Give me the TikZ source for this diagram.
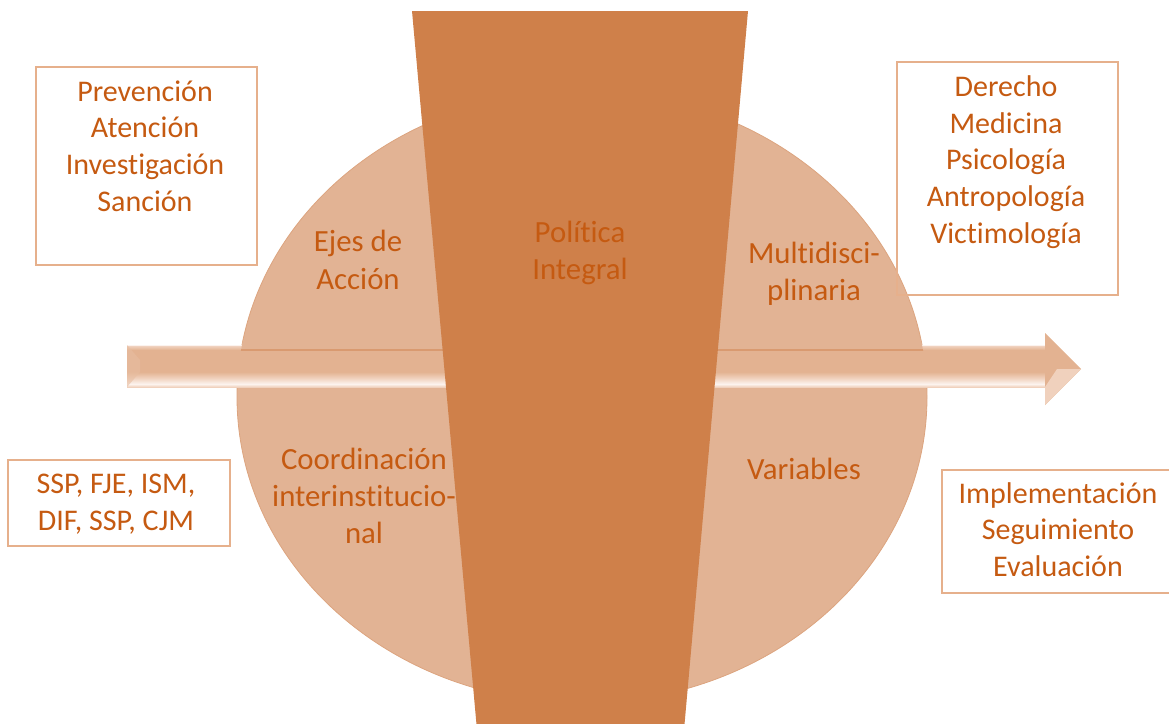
\documentclass[tikz,border=0pt]{standalone}
\usepackage{fontspec}
\setmainfont[Ligatures=NoCommon]{Carlito}
\definecolor{txt}{HTML}{C55A11}
\definecolor{ell}{HTML}{E2B394}
\definecolor{elledge}{HTML}{DCA47F}
\definecolor{trap}{HTML}{CF804A}
\definecolor{boxb}{HTML}{E6B08C}
\definecolor{arr}{HTML}{E3B291}
\definecolor{arrl}{HTML}{FCF3EE}
\definecolor{arrm}{HTML}{F0D1BD}
\definecolor{arrd}{HTML}{D99A70}
\pgfdeclareverticalshading{shaftshade}{100bp}{%
  color(0bp)=(arrm); color(25bp)=(arrm); color(28.6bp)=(arrl);
  color(35.7bp)=(arrm); color(43bp)=(arr); color(69bp)=(arr);
  color(73.8bp)=(arrm); color(75bp)=(arrl); color(100bp)=(arrl)}
\tikzset{
  lbl/.style={text=txt, font=\fontsize{30}{36.8}\selectfont, align=center, inner sep=0pt},
  ilbl/.style={lbl, font=\fontsize{30.8}{37.2}\selectfont},
  frame/.style={draw=boxb, line width=1.3pt},
}
\begin{document}
\begin{tikzpicture}[x=1pt,y=-1pt]
\useasboundingbox (0,0) rectangle (1169,723);
\clip (0,0) rectangle (1169,723);
% ellipse
\fill[ell, draw=elledge, line width=0.8pt] (582,397) ellipse [x radius=345, y radius=306];
% arrow shaft and head
\shade[shading=shaftshade] (127,345) rectangle (1045,387);
\fill[arr] (1045,333) -- (1081,369) -- (1045,405) -- cycle;
\fill[arrm] (1045,387) -- (1057,369) -- (1081,369) -- (1045,405) -- cycle;
\fill[arr!85!white, opacity=0.6] (127,345) -- (140,360) -- (140,372) -- (127,387) -- cycle;
\begin{scope}
  \clip (582,397) ellipse [x radius=345, y radius=306];
  \fill[ell] (127,340) rectangle (1045,349);
  \draw[arrd, line width=1.6pt] (127,350) -- (1045,350);
\end{scope}
% central trapezoid
\fill[trap] (412,11) -- (748,11) -- (684,730) -- (477,730) -- cycle;
% boxes
\draw[frame] (36,67) rectangle (257,265);
\draw[frame] (897,62) rectangle (1118,295);
\draw[frame] (8,460) rectangle (230,546);
\draw[frame] (942,470) rectangle (1180,593);
% texts
\node[lbl] (ejesbox) at (145,146) {Prevención\\Atención\\Investigación\\Sanción};
\node[lbl] (discbox) at (1006,162) {Derecho\\Medicina\\Psicología\\Antropología\\Victimología};
\node[lbl] (instbox) at (116,504) {SSP, FJE, ISM,\\DIF, SSP, CJM};
\node[lbl] (varbox) at (1058,529.5) {Implementación\\Seguimiento\\Evaluación};
\node[ilbl] (ejes) at (358,260) {Ejes de\\Acción};
\node[ilbl] (pol) at (580,253) {Política\\Integral};
\node[ilbl] (multi) at (814,273.5) {Multidisci-\\plinaria};
\node[ilbl] (coord) at (364,496) {Coordinación\\interinstitucio-\\nal};
\node[ilbl] (var) at (804,468.5) {Variables};
\end{tikzpicture}
\end{document}
